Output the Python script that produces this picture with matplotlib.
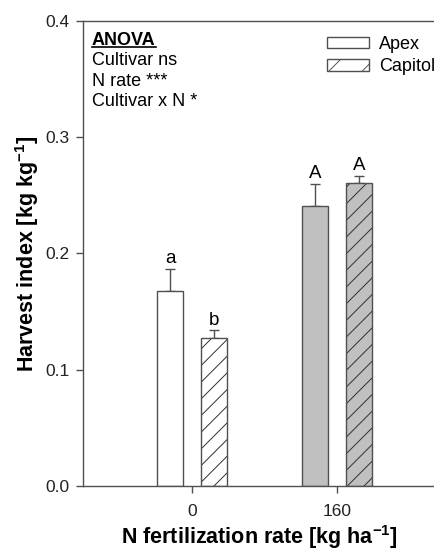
import numpy as np
import matplotlib
matplotlib.use('Agg')
from matplotlib import pyplot as plt
from matplotlib.patches import Patch
from matplotlib.lines import Line2D

plt.rcParams['font.family'] = ['Liberation Sans', 'DejaVu Sans']
plt.rcParams['mathtext.fontset'] = 'custom'
plt.rcParams['mathtext.rm'] = 'Liberation Sans'
plt.rcParams['mathtext.bf'] = 'Liberation Sans:bold'
plt.rcParams['hatch.linewidth'] = 0.7

# data
rates = ['0', '160']
apex = [0.168, 0.241]
apex_se = [0.019, 0.019]
capitol = [0.127, 0.261]
capitol_se = [0.007, 0.006]
apex_letters = ['a', 'A']
capitol_letters = ['b', 'A']
fill_colors = ['white', '#c0c0c0']
anova_lines = ['Cultivar ns', 'N rate ***', 'Cultivar x N *']

edge = '#505050'
fs = 13
fig = plt.figure(figsize=(4.35, 5.5), dpi=100)
ax = fig.add_axes([0.191, 0.1164, 0.809, 0.8454])

x = np.arange(len(rates))
w = 0.18
off = 0.15

ax.bar(x - off, apex, w, color=fill_colors, edgecolor=edge, linewidth=1, zorder=2)
ax.bar(x + off, capitol, w, color=fill_colors, edgecolor='#303030', hatch='//', linewidth=0, zorder=2)
ax.bar(x + off, capitol, w, color='none', edgecolor=edge, linewidth=1, zorder=3)
ax.errorbar(x - off, apex, yerr=[np.zeros(2), apex_se], fmt='none', ecolor=edge,
            elinewidth=1, capsize=3.6, capthick=1, zorder=1)
ax.errorbar(x + off, capitol, yerr=[np.zeros(2), capitol_se], fmt='none', ecolor=edge,
            elinewidth=1, capsize=3.6, capthick=1, zorder=1)

for xi, v, s, t in zip(x - off, apex, apex_se, apex_letters):
    ax.annotate(t, (xi, v + s), xytext=(0, 1), textcoords='offset points',
                ha='center', va='bottom', fontsize=fs + 0.5)
for xi, v, s, t in zip(x + off, capitol, capitol_se, capitol_letters):
    ax.annotate(t, (xi, v + s), xytext=(0, 1), textcoords='offset points',
                ha='center', va='bottom', fontsize=fs + 0.5)

ax.set_xlim(-0.752, 1.676)
ax.set_ylim(0, 0.4)
ax.set_xticks(x)
ax.set_xticklabels(rates)
ax.set_yticks([0.0, 0.1, 0.2, 0.3, 0.4])
ax.set_yticklabels(['0.0', '0.1', '0.2', '0.3', '0.4'])
ax.tick_params(axis='both', direction='out', length=5, width=1, color=edge,
               labelsize=12.5, labelcolor='#222222', pad=5)
ax.tick_params(axis='x', pad=8)
for sp in ax.spines.values():
    sp.set_color(edge)
    sp.set_linewidth(1)

ax.set_xlabel(r'N fertilization rate [kg ha$^{\mathbf{-1}}$]', fontsize=15.5,
              fontweight='bold', labelpad=3)
ax.set_ylabel(r'Harvest index [kg kg$^{\mathbf{-1}}$]', fontsize=15.5,
              fontweight='bold', labelpad=3)

# ANOVA box
t0 = fig.text(92 / 435, 1 - 32 / 550, 'ANOVA', fontsize=fs, fontweight='bold',
              va='top', ha='left')
for i, line in enumerate(anova_lines):
    fig.text(92 / 435, 1 - (52 + 20.7 * i) / 550, line, fontsize=fs,
             va='top', ha='left')
fig.canvas.draw()
bb = t0.get_window_extent().transformed(fig.transFigure.inverted())
uy = bb.y0 + 2.5 / 550
fig.add_artist(Line2D([bb.x0, bb.x1], [uy, uy], transform=fig.transFigure,
                      color='black', linewidth=1.2))

handles = [Patch(facecolor='white', edgecolor=edge, linewidth=1),
           Patch(facecolor='white', edgecolor=edge, hatch='/', linewidth=1)]
ax.legend(handles, ['Apex', 'Capitol'], loc='upper left',
          bbox_to_anchor=(327 / 435, 1 - 36 / 550), bbox_transform=fig.transFigure,
          frameon=False, borderaxespad=0, borderpad=0, fontsize=fs,
          handlelength=2.3, handleheight=0.6, handletextpad=0.6, labelspacing=0.3)

fig.savefig('out.png', dpi=100)
